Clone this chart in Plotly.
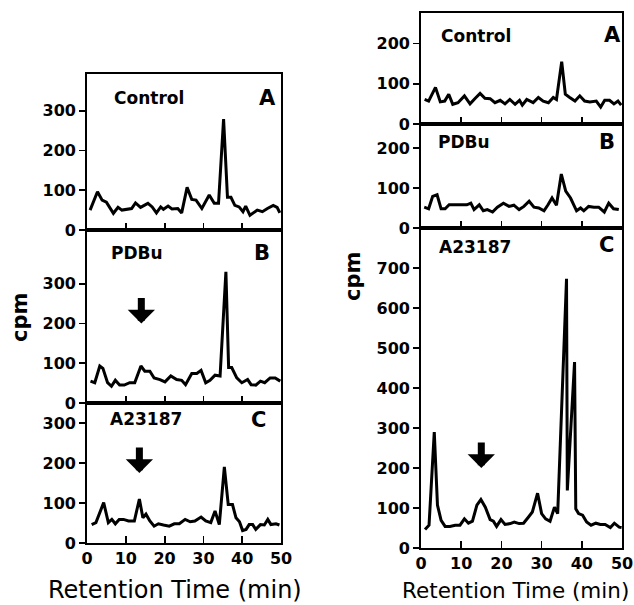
import plotly.graph_objects as go

# ---------------- data ----------------
# Left figure
left_a_x = [0.8, 2.7, 3.9, 5.0, 6.8, 8.0, 9.0, 11.5, 12.5, 13.8, 15.7, 16.8, 17.9, 19.0, 19.7,
            20.9, 21.9, 23.4, 24.4, 25.8, 27.0, 28.1, 29.6, 31.5, 32.8, 33.9, 35.2, 36.2, 37.1,
            38.1, 39.2, 40.2, 40.9, 42.0, 43.9, 45.2, 46.5, 48.0, 49.0, 49.7]
left_a_y = [50, 96, 75, 70, 42, 57, 50, 54, 68, 57, 67, 58, 43, 58, 52,
            60, 53, 54, 43, 107, 77, 75, 54, 88, 67, 67, 279, 82, 82,
            62, 58, 46, 60, 37, 50, 46, 54, 62, 57, 43]

left_b_x = [0.9, 2.0, 3.3, 4.1, 5.3, 6.3, 7.3, 8.4, 9.6, 11.0, 12.3, 13.9, 14.9, 16.2, 17.3,
            18.8, 20.1, 21.6, 23.1, 24.4, 25.4, 27.0, 28.3, 29.4, 30.6, 31.7, 33.0, 34.3, 35.8,
            36.5, 37.3, 38.6, 39.9, 41.4, 42.3, 43.5, 44.7, 45.8, 47.2, 48.5, 49.8]
left_b_y = [55, 51, 93, 87, 51, 42, 57, 45, 45, 51, 51, 93, 80, 80, 63,
            59, 53, 68, 59, 57, 46, 74, 74, 82, 51, 57, 70, 68, 330,
            89, 89, 63, 51, 59, 46, 45, 55, 51, 63, 63, 55]

left_c_x = [1.2, 2.3, 4.3, 5.5, 6.4, 7.3, 8.3, 9.4, 10.7, 12.2, 13.5, 14.4, 15.2, 16.2, 17.3,
            18.4, 19.7, 21.2, 22.5, 23.8, 25.3, 26.6, 27.8, 29.4, 30.6, 31.9, 33.0, 34.1, 35.4,
            36.4, 37.5, 38.4, 39.3, 40.1, 41.0, 41.8, 42.7, 43.5, 44.7, 45.7, 46.6, 47.4, 48.7, 49.6]
left_c_y = [46, 51, 101, 51, 59, 48, 59, 59, 55, 55, 110, 63, 72, 55, 42,
            48, 45, 42, 48, 48, 59, 53, 55, 65, 55, 51, 80, 46, 190,
            96, 96, 63, 53, 31, 34, 46, 46, 34, 46, 45, 59, 46, 48, 45]

# Right figure
right_a_x = [0.9, 1.9, 3.6, 4.8, 5.9, 6.9, 7.9, 9.2, 10.8, 12.2, 13.5, 14.7, 15.9, 17.2, 18.4,
             19.7, 20.9, 22.1, 23.4, 24.5, 25.2, 26.3, 27.9, 29.2, 30.4, 31.7, 32.9, 33.7, 35.0,
             35.9, 37.0, 38.3, 39.5, 40.7, 42.0, 43.6, 44.7, 45.7, 46.9, 48.0, 49.0, 49.8]
right_a_y = [61, 57, 91, 55, 57, 74, 49, 53, 70, 50, 64, 76, 64, 63, 53,
             59, 50, 61, 49, 59, 47, 61, 53, 66, 57, 53, 66, 61, 155,
             74, 66, 57, 70, 57, 55, 57, 42, 59, 59, 50, 57, 47]

right_b_x = [0.8, 1.9, 2.9, 4.0, 5.0, 6.0, 7.0, 8.7, 9.9, 11.4, 12.4, 13.2, 14.5, 15.5, 16.5,
             17.8, 19.0, 20.5, 21.9, 23.1, 24.4, 25.6, 26.9, 28.1, 29.3, 30.6, 31.6, 32.6, 33.7,
             34.9, 36.0, 37.2, 38.7, 39.7, 40.5, 41.7, 43.0, 44.2, 45.6, 46.7, 47.9, 49.2]
right_b_y = [52, 48, 79, 83, 48, 48, 58, 58, 58, 58, 62, 46, 58, 43, 46,
             40, 52, 62, 54, 57, 46, 54, 67, 52, 50, 43, 58, 75, 57,
             135, 92, 75, 43, 50, 43, 54, 52, 52, 40, 62, 48, 46]

right_c_x = [1.0, 2.0, 3.3, 4.1, 5.0, 6.0, 7.2, 8.5, 9.7, 10.8, 11.8, 12.8, 13.9, 14.9, 16.0,
             17.2, 18.0, 18.8, 19.9, 20.9, 22.2, 23.2, 24.4, 25.5, 26.7, 27.7, 29.0, 30.0, 31.0,
             32.1, 33.2, 34.0, 36.2, 36.4, 38.2, 38.5, 39.2, 40.2, 41.2, 42.3, 43.5, 44.6, 45.8,
             47.1, 48.1, 49.3, 49.9]
right_c_y = [46, 57, 290, 107, 69, 54, 54, 57, 57, 73, 62, 67, 107, 121, 102,
             71, 67, 54, 71, 59, 61, 65, 61, 62, 77, 90, 137, 86, 73,
             67, 102, 86, 673, 144, 465, 98, 86, 82, 65, 57, 62, 59, 59,
             51, 62, 52, 51]

x_ticks = [0, 10, 20, 30, 40, 50]
inner_x_ticks = [10, 20, 30, 40]
left_y_ticks = [0, 100, 200, 300]
right_ab_y_ticks = [0, 100, 200]
right_c_y_ticks = [0, 100, 200, 300, 400, 500, 600, 700]

panel_names = ["Control", "PDBu", "A23187", "Control", "PDBu", "A23187"]
panel_letters = ["A", "B", "C", "A", "B", "C"]

# ---------------- layout geometry (pixels) ----------------
W, H = 634, 605
FONT = "DejaVu Sans"

def fx(px):
    return px / W

def fy(py):
    return 1 - py / H

# (x0, x1, ytop, ybottom, yrange, yticks, is_bottom)
panels = [
    (87, 281, 74, 230, [0, 392], left_y_ticks, False),
    (87, 281, 230, 403, [0, 435], left_y_ticks, False),
    (87, 281, 403, 543, [0, 350], left_y_ticks, True),
    (421, 622, 13, 124, [0, 276], right_ab_y_ticks, False),
    (421, 622, 124, 228, [0, 260], right_ab_y_ticks, False),
    (421, 622, 228, 548, [0, 800], right_c_y_ticks, True),
]
series = [(left_a_x, left_a_y), (left_b_x, left_b_y), (left_c_x, left_c_y),
          (right_a_x, right_a_y), (right_b_x, right_b_y), (right_c_x, right_c_y)]

fig = go.Figure()
layout = dict(
    width=W, height=H,
    margin=dict(l=0, r=0, t=0, b=0, autoexpand=False),
    paper_bgcolor="white", plot_bgcolor="white",
    showlegend=False,
    font=dict(family=FONT, color="black", size=16),
)
annotations = []
tick_font = dict(family=FONT, size=16, color="black", weight="bold")

for i, ((x0, x1, yt, yb, yr, yt_vals, is_bottom), (xs, ys)) in enumerate(zip(panels, series)):
    n = i + 1
    xa = "x" if n == 1 else f"x{n}"
    ya = "y" if n == 1 else f"y{n}"
    fig.add_trace(go.Scatter(x=xs, y=ys, mode="lines", xaxis=xa, yaxis=ya,
                             line=dict(color="black", width=3), hoverinfo="skip"))
    xkey = "xaxis" if n == 1 else f"xaxis{n}"
    ykey = "yaxis" if n == 1 else f"yaxis{n}"
    layout[xkey] = dict(
        domain=[fx(x0), fx(x1)], anchor=ya, range=[0, 50], automargin=False,
        showgrid=False, zeroline=False, showline=True, linecolor="black", linewidth=1.8,
        mirror=True, ticks="inside", ticklen=7, tickwidth=1.8, tickcolor="black",
        tickvals=x_ticks if is_bottom else inner_x_ticks,
        showticklabels=is_bottom,
        tickfont=tick_font,
    )
    layout[ykey] = dict(
        domain=[fy(yb), fy(yt)], anchor=xa, range=yr, automargin=False,
        showgrid=False, zeroline=False, showline=True, linecolor="black", linewidth=1.8,
        mirror=True, ticks="outside", ticklen=6, tickwidth=1.8, tickcolor="black",
        tickvals=yt_vals,
        tickfont=tick_font,
    )

# panel texts (pixel positions)
name_pos = [(149, 98), (137, 253), (146, 419), (476, 36), (464, 142), (475, 247)]
letter_pos = [(267, 98), (262, 253), (258, 420), (612, 35), (607, 142), (606, 245)]
for name, (px, py) in zip(panel_names, name_pos):
    annotations.append(dict(text="<b>" + name + "</b>", x=fx(px), y=fy(py), xref="paper", yref="paper",
                            showarrow=False, xanchor="center", yanchor="middle",
                            font=dict(family=FONT, size=17, color="black")))
for letter, (px, py) in zip(panel_letters, letter_pos):
    annotations.append(dict(text="<b>" + letter + "</b>", x=fx(px), y=fy(py), xref="paper", yref="paper",
                            showarrow=False, xanchor="center", yanchor="middle",
                            font=dict(family=FONT, size=21, color="black")))

# axis titles
for px, py in [(20, 318), (353, 277)]:
    annotations.append(dict(text="<b>cpm</b>", x=fx(px), y=fy(py), xref="paper", yref="paper",
                            showarrow=False, textangle=-90, xanchor="center", yanchor="middle",
                            font=dict(family=FONT, size=21, color="black")))
annotations.append(dict(text="Retention Time (min)", x=fx(175), y=fy(590), xref="paper", yref="paper",
                        showarrow=False, xanchor="center", yanchor="middle",
                        font=dict(family=FONT, size=24, color="black")))
annotations.append(dict(text="Retention Time (min)", x=fx(631), y=fy(590), xref="paper", yref="paper",
                        showarrow=False, xanchor="right", yanchor="middle",
                        font=dict(family=FONT, size=21.5, color="black")))

# arrows marking the 15-min peak
arrow_specs = [("x2", "y2", 14, 200), ("x3", "y3", 13.5, 175), ("x6", "y6", 15, 200)]
for xr, yr_, xv, yv in arrow_specs:
    annotations.append(dict(x=xv, y=yv, xref=xr, yref=yr_, ax=0, ay=-27, axref="pixel", ayref="pixel",
                            text="", showarrow=True, arrowhead=1, arrowwidth=7, arrowsize=0.65,
                            arrowcolor="black"))

layout["annotations"] = annotations
fig.update_layout(**layout)
fig.write_html("out.html", config={"displayModeBar": False, "staticPlot": True},
               post_script="document.body.style.margin='0';document.body.style.overflow='hidden';")
